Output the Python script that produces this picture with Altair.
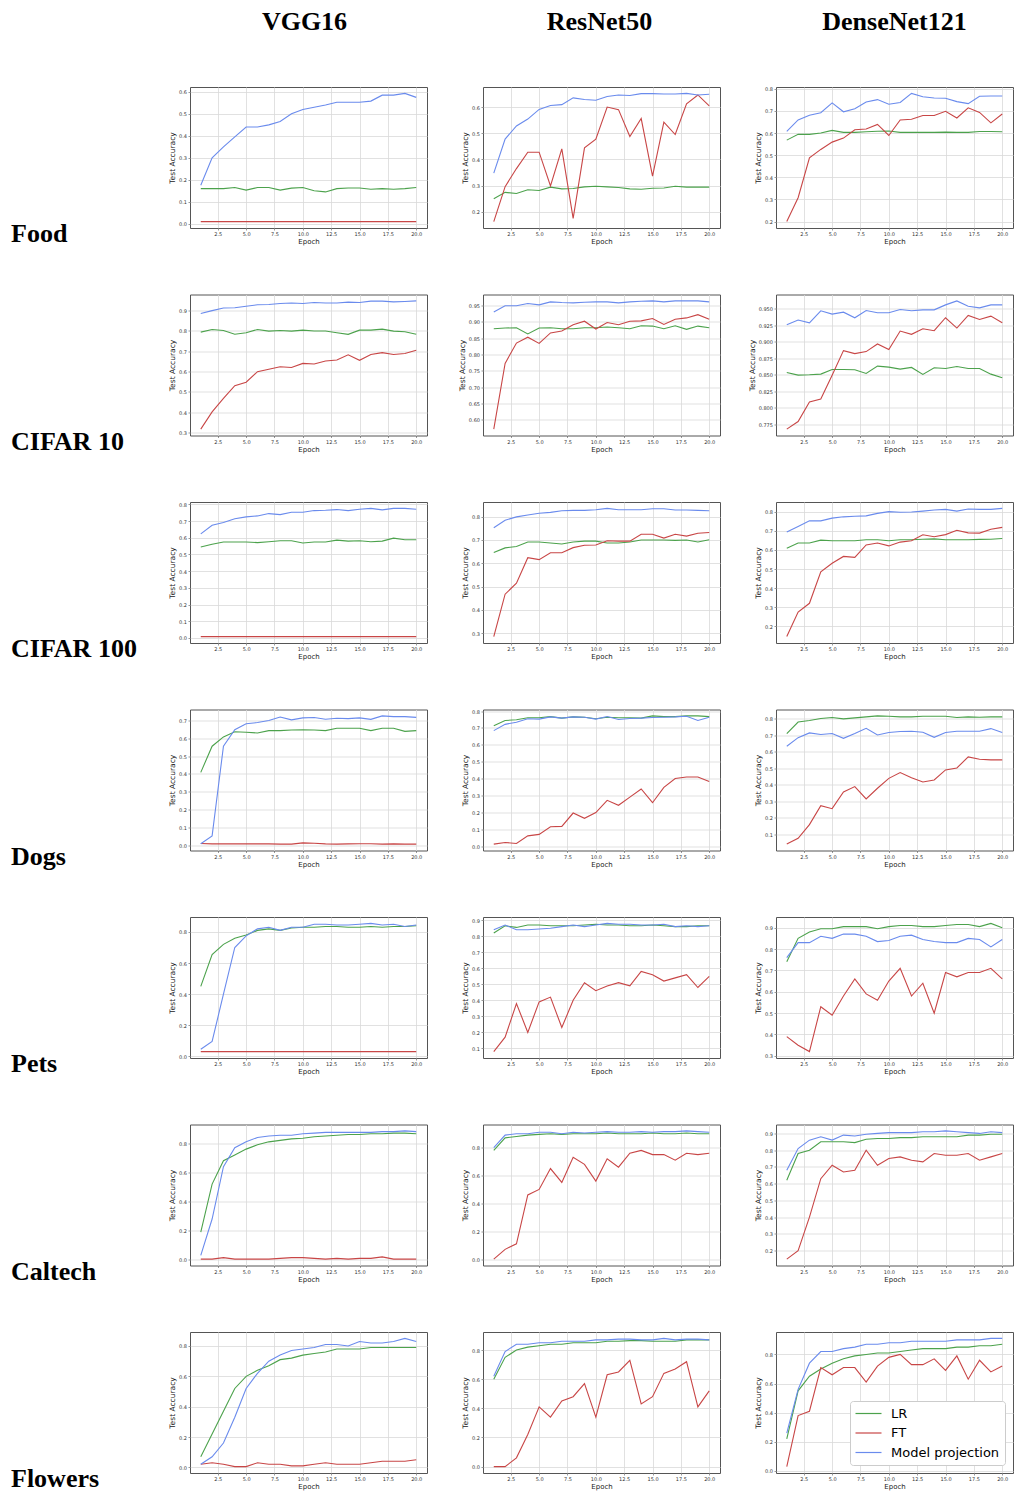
import math
import altair as alt
import pandas as pd

epochs = list(range(1, 21))
models = ["VGG16", "ResNet50", "DenseNet121"]
datasets = ["Food", "CIFAR 10", "CIFAR 100", "Dogs", "Pets", "Caltech", "Flowers"]
series_names = ["LR", "FT", "Model projection"]
series_colors = ["#4ca24c", "#c84646", "#6a8bed"]
x_ticks = [2.5, 5.0, 7.5, 10.0, 12.5, 15.0, 17.5, 20.0]

# ---------------- Food ----------------
food_vgg_lr = [0.16, 0.16, 0.16, 0.165, 0.153, 0.165, 0.165, 0.153, 0.162, 0.165, 0.15, 0.145, 0.16, 0.163, 0.163, 0.157, 0.16, 0.157, 0.16, 0.165]
food_vgg_ft = [0.01, 0.01, 0.01, 0.01, 0.01, 0.01, 0.01, 0.01, 0.01, 0.01, 0.01, 0.01, 0.01, 0.01, 0.01, 0.01, 0.01, 0.01, 0.01, 0.01]
food_vgg_mp = [0.175, 0.30, 0.35, 0.395, 0.44, 0.44, 0.45, 0.465, 0.50, 0.52, 0.53, 0.54, 0.553, 0.553, 0.553, 0.558, 0.585, 0.585, 0.593, 0.575]

food_res_lr = [0.25, 0.274, 0.27, 0.284, 0.281, 0.294, 0.2875, 0.289, 0.295, 0.2975, 0.295, 0.2925, 0.2875, 0.286, 0.29, 0.291, 0.2975, 0.294, 0.294, 0.294]
food_res_ft = [0.1625, 0.296, 0.365, 0.4275, 0.4275, 0.299, 0.44, 0.175, 0.444, 0.4775, 0.60, 0.59, 0.4875, 0.556, 0.336, 0.5425, 0.495, 0.6125, 0.646, 0.604]
food_res_mp = [0.3475, 0.4775, 0.5275, 0.554, 0.591, 0.606, 0.609, 0.635, 0.629, 0.626, 0.64, 0.646, 0.644, 0.651, 0.651, 0.65, 0.65, 0.652, 0.646, 0.649]

food_dense_lr = [0.568, 0.594, 0.594, 0.60, 0.612, 0.603, 0.603, 0.606, 0.608, 0.609, 0.603, 0.603, 0.603, 0.603, 0.604, 0.603, 0.603, 0.607, 0.607, 0.606]
food_dense_ft = [0.20, 0.308, 0.488, 0.526, 0.559, 0.577, 0.615, 0.618, 0.639, 0.589, 0.659, 0.662, 0.679, 0.679, 0.698, 0.668, 0.714, 0.693, 0.646, 0.686]
food_dense_mp = [0.608, 0.659, 0.68, 0.692, 0.736, 0.696, 0.71, 0.74, 0.751, 0.73, 0.738, 0.779, 0.764, 0.758, 0.757, 0.742, 0.733, 0.766, 0.767, 0.767]

# ---------------- CIFAR 10 ----------------
c10_vgg_lr = [0.794, 0.807, 0.802, 0.784, 0.791, 0.807, 0.799, 0.802, 0.799, 0.804, 0.80, 0.80, 0.791, 0.783, 0.804, 0.804, 0.809, 0.799, 0.796, 0.784]
c10_vgg_ft = [0.316, 0.401, 0.467, 0.53, 0.547, 0.599, 0.611, 0.623, 0.62, 0.64, 0.637, 0.652, 0.657, 0.682, 0.655, 0.684, 0.693, 0.684, 0.689, 0.705]
c10_vgg_mp = [0.886, 0.90, 0.913, 0.914, 0.922, 0.929, 0.93, 0.935, 0.938, 0.935, 0.94, 0.938, 0.938, 0.942, 0.94, 0.947, 0.947, 0.943, 0.945, 0.948]

c10_res_lr = [0.879, 0.881, 0.882, 0.863, 0.881, 0.882, 0.879, 0.879, 0.882, 0.882, 0.884, 0.882, 0.879, 0.888, 0.887, 0.879, 0.888, 0.877, 0.887, 0.882]
c10_res_ft = [0.572, 0.773, 0.835, 0.853, 0.834, 0.866, 0.872, 0.891, 0.902, 0.878, 0.898, 0.891, 0.902, 0.903, 0.91, 0.892, 0.908, 0.912, 0.922, 0.908]
c10_res_mp = [0.93, 0.949, 0.949, 0.956, 0.952, 0.961, 0.959, 0.958, 0.96, 0.961, 0.961, 0.958, 0.961, 0.963, 0.964, 0.961, 0.964, 0.964, 0.964, 0.961]

c10_dense_lr = [0.8532, 0.8492, 0.8497, 0.8507, 0.8578, 0.8578, 0.8573, 0.8517, 0.8628, 0.8613, 0.8583, 0.8608, 0.8502, 0.8603, 0.8593, 0.8623, 0.8593, 0.8593, 0.8507, 0.8452]
c10_dense_ft = [0.7675, 0.779, 0.8086, 0.813, 0.849, 0.8863, 0.8818, 0.8848, 0.8963, 0.8878, 0.9159, 0.9109, 0.9194, 0.9164, 0.936, 0.9204, 0.9395, 0.9335, 0.9385, 0.9284]
c10_dense_mp = [0.9254, 0.9325, 0.9284, 0.9465, 0.9415, 0.9445, 0.936, 0.947, 0.9435, 0.9435, 0.9485, 0.9465, 0.948, 0.948, 0.9555, 0.9615, 0.9535, 0.951, 0.9555, 0.9555]

# ---------------- CIFAR 100 ----------------
c100_vgg_lr = [0.545, 0.561, 0.575, 0.575, 0.575, 0.571, 0.576, 0.582, 0.582, 0.569, 0.575, 0.575, 0.586, 0.58, 0.582, 0.576, 0.58, 0.598, 0.588, 0.588]
c100_vgg_ft = [0.008, 0.008, 0.008, 0.008, 0.008, 0.008, 0.008, 0.008, 0.008, 0.008, 0.008, 0.008, 0.008, 0.008, 0.008, 0.008, 0.008, 0.008, 0.008, 0.008]
c100_vgg_mp = [0.6235, 0.675, 0.692, 0.714, 0.725, 0.731, 0.745, 0.739, 0.753, 0.753, 0.763, 0.765, 0.769, 0.763, 0.771, 0.776, 0.767, 0.776, 0.776, 0.771]

c100_res_lr = [0.6464, 0.666, 0.6715, 0.691, 0.691, 0.6869, 0.6827, 0.691, 0.695, 0.695, 0.687, 0.687, 0.691, 0.6994, 0.6994, 0.6994, 0.698, 0.6994, 0.691, 0.7008]
c100_res_ft = [0.286, 0.4676, 0.515, 0.624, 0.6156, 0.645, 0.645, 0.667, 0.677, 0.6785, 0.6966, 0.695, 0.695, 0.7245, 0.7245, 0.708, 0.7245, 0.7162, 0.7287, 0.7315]
c100_res_mp = [0.7525, 0.7846, 0.7986, 0.807, 0.814, 0.818, 0.825, 0.8265, 0.8265, 0.829, 0.835, 0.829, 0.829, 0.829, 0.8335, 0.8335, 0.828, 0.828, 0.8265, 0.825]

c100_dense_lr = [0.609, 0.636, 0.636, 0.651, 0.648, 0.648, 0.648, 0.653, 0.653, 0.648, 0.653, 0.653, 0.656, 0.658, 0.653, 0.653, 0.653, 0.655, 0.656, 0.66]
c100_dense_ft = [0.147, 0.275, 0.321, 0.485, 0.53, 0.566, 0.561, 0.626, 0.636, 0.621, 0.641, 0.648, 0.679, 0.669, 0.68, 0.703, 0.689, 0.688, 0.708, 0.718]
c100_dense_mp = [0.694, 0.723, 0.752, 0.752, 0.766, 0.773, 0.776, 0.778, 0.791, 0.80, 0.797, 0.798, 0.803, 0.809, 0.812, 0.803, 0.814, 0.812, 0.812, 0.817]

# ---------------- Dogs ----------------
dogs_vgg_lr = [0.409, 0.555, 0.607, 0.636, 0.633, 0.629, 0.642, 0.642, 0.645, 0.647, 0.645, 0.642, 0.655, 0.655, 0.655, 0.642, 0.655, 0.655, 0.638, 0.642]
dogs_vgg_ft = [0.012, 0.01, 0.01, 0.01, 0.011, 0.01, 0.01, 0.009, 0.009, 0.016, 0.014, 0.01, 0.009, 0.01, 0.011, 0.011, 0.009, 0.01, 0.009, 0.009]
dogs_vgg_mp = [0.011, 0.055, 0.555, 0.647, 0.68, 0.687, 0.698, 0.718, 0.702, 0.713, 0.715, 0.705, 0.711, 0.709, 0.713, 0.705, 0.724, 0.72, 0.72, 0.716]

dogs_res_lr = [0.713, 0.744, 0.748, 0.76, 0.76, 0.767, 0.758, 0.765, 0.763, 0.754, 0.763, 0.76, 0.76, 0.758, 0.771, 0.767, 0.767, 0.771, 0.771, 0.767]
dogs_res_ft = [0.0135, 0.023, 0.017, 0.062, 0.071, 0.116, 0.118, 0.197, 0.166, 0.20, 0.272, 0.243, 0.291, 0.339, 0.258, 0.349, 0.401, 0.41, 0.41, 0.383]
dogs_res_mp = [0.684, 0.721, 0.734, 0.754, 0.752, 0.765, 0.758, 0.765, 0.763, 0.752, 0.767, 0.75, 0.756, 0.758, 0.762, 0.763, 0.765, 0.769, 0.744, 0.763]

dogs_dense_lr = [0.711, 0.781, 0.79, 0.802, 0.808, 0.80, 0.806, 0.812, 0.818, 0.816, 0.812, 0.812, 0.816, 0.816, 0.816, 0.808, 0.812, 0.81, 0.812, 0.812]
dogs_dense_ft = [0.04, 0.075, 0.158, 0.273, 0.255, 0.356, 0.389, 0.314, 0.379, 0.439, 0.474, 0.443, 0.417, 0.429, 0.49, 0.502, 0.569, 0.555, 0.551, 0.551]
dogs_dense_mp = [0.634, 0.686, 0.715, 0.705, 0.711, 0.682, 0.711, 0.743, 0.702, 0.717, 0.723, 0.725, 0.719, 0.688, 0.717, 0.725, 0.725, 0.725, 0.741, 0.717]

# ---------------- Pets ----------------
pets_vgg_lr = [0.45, 0.655, 0.72, 0.76, 0.78, 0.81, 0.82, 0.81, 0.825, 0.83, 0.83, 0.835, 0.835, 0.83, 0.83, 0.835, 0.83, 0.835, 0.835, 0.84]
pets_vgg_ft = [0.03, 0.03, 0.03, 0.03, 0.03, 0.03, 0.03, 0.03, 0.03, 0.03, 0.03, 0.03, 0.03, 0.03, 0.03, 0.03, 0.03, 0.03, 0.03, 0.03]
pets_vgg_mp = [0.045, 0.095, 0.40, 0.70, 0.775, 0.82, 0.83, 0.81, 0.83, 0.83, 0.85, 0.85, 0.845, 0.845, 0.85, 0.855, 0.845, 0.85, 0.835, 0.845]

pets_res_lr = [0.82, 0.865, 0.855, 0.87, 0.87, 0.865, 0.865, 0.865, 0.87, 0.875, 0.87, 0.87, 0.865, 0.865, 0.87, 0.865, 0.86, 0.86, 0.865, 0.865]
pets_res_ft = [0.08, 0.17, 0.38, 0.20, 0.39, 0.42, 0.23, 0.40, 0.51, 0.46, 0.49, 0.51, 0.49, 0.58, 0.56, 0.52, 0.54, 0.56, 0.48, 0.55]
pets_res_mp = [0.84, 0.87, 0.84, 0.84, 0.845, 0.85, 0.86, 0.87, 0.86, 0.87, 0.88, 0.875, 0.875, 0.87, 0.87, 0.875, 0.86, 0.865, 0.86, 0.865]

pets_dense_lr = [0.74, 0.85, 0.88, 0.895, 0.895, 0.905, 0.905, 0.905, 0.895, 0.905, 0.91, 0.91, 0.905, 0.905, 0.91, 0.915, 0.915, 0.905, 0.92, 0.90]
pets_dense_ft = [0.39, 0.35, 0.32, 0.53, 0.49, 0.58, 0.66, 0.59, 0.56, 0.65, 0.71, 0.58, 0.64, 0.50, 0.69, 0.67, 0.69, 0.69, 0.71, 0.66]
pets_dense_mp = [0.76, 0.83, 0.83, 0.86, 0.85, 0.87, 0.87, 0.86, 0.835, 0.84, 0.86, 0.865, 0.845, 0.835, 0.83, 0.83, 0.85, 0.845, 0.81, 0.845]

# ---------------- Caltech ----------------
cal_vgg_lr = [0.19, 0.52, 0.68, 0.72, 0.76, 0.79, 0.81, 0.82, 0.83, 0.835, 0.845, 0.85, 0.855, 0.86, 0.86, 0.865, 0.865, 0.87, 0.87, 0.865]
cal_vgg_ft = [0.005, 0.005, 0.015, 0.005, 0.005, 0.005, 0.005, 0.01, 0.015, 0.015, 0.01, 0.005, 0.01, 0.005, 0.01, 0.01, 0.02, 0.005, 0.005, 0.005]
cal_vgg_mp = [0.03, 0.28, 0.64, 0.77, 0.81, 0.84, 0.85, 0.855, 0.855, 0.865, 0.87, 0.875, 0.875, 0.875, 0.875, 0.875, 0.88, 0.88, 0.885, 0.88]

cal_res_lr = [0.78, 0.87, 0.88, 0.89, 0.895, 0.90, 0.895, 0.90, 0.90, 0.90, 0.905, 0.90, 0.90, 0.90, 0.905, 0.90, 0.90, 0.905, 0.90, 0.90]
cal_res_ft = [0.0, 0.07, 0.11, 0.46, 0.50, 0.65, 0.55, 0.73, 0.68, 0.56, 0.72, 0.66, 0.76, 0.78, 0.75, 0.75, 0.71, 0.76, 0.75, 0.76]
cal_res_mp = [0.80, 0.89, 0.90, 0.90, 0.91, 0.91, 0.90, 0.91, 0.905, 0.91, 0.915, 0.91, 0.91, 0.915, 0.91, 0.915, 0.915, 0.92, 0.915, 0.91]

cal_dense_lr = [0.62, 0.78, 0.80, 0.85, 0.85, 0.85, 0.845, 0.865, 0.87, 0.87, 0.875, 0.875, 0.88, 0.88, 0.88, 0.88, 0.89, 0.89, 0.895, 0.895]
cal_dense_ft = [0.15, 0.20, 0.40, 0.63, 0.71, 0.67, 0.68, 0.80, 0.71, 0.75, 0.76, 0.74, 0.73, 0.78, 0.77, 0.77, 0.78, 0.74, 0.76, 0.78]
cal_dense_mp = [0.68, 0.81, 0.86, 0.88, 0.86, 0.89, 0.885, 0.895, 0.90, 0.905, 0.905, 0.905, 0.91, 0.91, 0.915, 0.91, 0.905, 0.90, 0.91, 0.905]

# ---------------- Flowers ----------------
flw_vgg_lr = [0.07, 0.22, 0.37, 0.52, 0.60, 0.64, 0.67, 0.71, 0.72, 0.74, 0.75, 0.76, 0.78, 0.78, 0.78, 0.79, 0.79, 0.79, 0.79, 0.79]
flw_vgg_ft = [0.02, 0.03, 0.02, 0.005, 0.005, 0.03, 0.02, 0.02, 0.01, 0.01, 0.02, 0.03, 0.02, 0.02, 0.02, 0.03, 0.04, 0.04, 0.04, 0.05]
flw_vgg_mp = [0.02, 0.07, 0.16, 0.33, 0.52, 0.62, 0.70, 0.74, 0.77, 0.78, 0.79, 0.81, 0.81, 0.80, 0.83, 0.82, 0.82, 0.83, 0.85, 0.83]

flw_res_lr = [0.60, 0.75, 0.80, 0.82, 0.83, 0.84, 0.84, 0.85, 0.85, 0.85, 0.86, 0.86, 0.865, 0.865, 0.86, 0.86, 0.86, 0.87, 0.87, 0.87]
flw_res_ft = [0.0, 0.0, 0.06, 0.22, 0.41, 0.34, 0.45, 0.48, 0.57, 0.34, 0.63, 0.65, 0.73, 0.43, 0.48, 0.64, 0.67, 0.72, 0.41, 0.52]
flw_res_mp = [0.62, 0.79, 0.84, 0.84, 0.85, 0.85, 0.86, 0.86, 0.86, 0.87, 0.87, 0.875, 0.875, 0.87, 0.87, 0.88, 0.87, 0.875, 0.875, 0.87]

flw_dense_lr = [0.22, 0.55, 0.65, 0.70, 0.74, 0.77, 0.79, 0.80, 0.81, 0.81, 0.82, 0.83, 0.84, 0.84, 0.84, 0.85, 0.85, 0.86, 0.86, 0.87]
flw_dense_ft = [0.03, 0.38, 0.41, 0.71, 0.66, 0.71, 0.71, 0.61, 0.72, 0.78, 0.80, 0.73, 0.73, 0.77, 0.69, 0.79, 0.63, 0.76, 0.68, 0.72]
flw_dense_mp = [0.26, 0.56, 0.74, 0.82, 0.82, 0.84, 0.85, 0.87, 0.87, 0.88, 0.88, 0.89, 0.89, 0.89, 0.89, 0.90, 0.90, 0.90, 0.91, 0.91]

panel_series = [
    [(food_vgg_lr, food_vgg_ft, food_vgg_mp), (food_res_lr, food_res_ft, food_res_mp), (food_dense_lr, food_dense_ft, food_dense_mp)],
    [(c10_vgg_lr, c10_vgg_ft, c10_vgg_mp), (c10_res_lr, c10_res_ft, c10_res_mp), (c10_dense_lr, c10_dense_ft, c10_dense_mp)],
    [(c100_vgg_lr, c100_vgg_ft, c100_vgg_mp), (c100_res_lr, c100_res_ft, c100_res_mp), (c100_dense_lr, c100_dense_ft, c100_dense_mp)],
    [(dogs_vgg_lr, dogs_vgg_ft, dogs_vgg_mp), (dogs_res_lr, dogs_res_ft, dogs_res_mp), (dogs_dense_lr, dogs_dense_ft, dogs_dense_mp)],
    [(pets_vgg_lr, pets_vgg_ft, pets_vgg_mp), (pets_res_lr, pets_res_ft, pets_res_mp), (pets_dense_lr, pets_dense_ft, pets_dense_mp)],
    [(cal_vgg_lr, cal_vgg_ft, cal_vgg_mp), (cal_res_lr, cal_res_ft, cal_res_mp), (cal_dense_lr, cal_dense_ft, cal_dense_mp)],
    [(flw_vgg_lr, flw_vgg_ft, flw_vgg_mp), (flw_res_lr, flw_res_ft, flw_res_mp), (flw_dense_lr, flw_dense_ft, flw_dense_mp)],
]

# y tick step of each panel (matplotlib auto ticks)
y_steps = [
    [0.1, 0.1, 0.1],
    [0.1, 0.05, 0.025],
    [0.1, 0.1, 0.1],
    [0.1, 0.1, 0.1],
    [0.2, 0.1, 0.1],
    [0.2, 0.2, 0.1],
    [0.2, 0.2, 0.2],
]

W, H = 237, 141
SERIF = "Liberation Serif"
SANS = "DejaVu Sans"
header_dx = [-4, -2, 0]


def make_panel(r, c):
    lr, ft, mp = panel_series[r][c]
    df = pd.DataFrame({
        "Epoch": epochs * 3,
        "Accuracy": lr + ft + mp,
        "Method": [series_names[0]] * 20 + [series_names[1]] * 20 + [series_names[2]] * 20,
    })
    vals = lr + ft + mp
    lo, hi = min(vals), max(vals)
    m = 0.05 * (hi - lo)
    dom = [lo - m, hi + m]
    step = y_steps[r][c]
    k0 = math.ceil(dom[0] / step - 1e-9)
    k1 = math.floor(dom[1] / step + 1e-9)
    ticks = [round(k * step, 4) for k in range(k0, k1 + 1)]
    dec = 3 if step < 0.05 else (2 if step < 0.1 else 1)

    if r == 6 and c == 2:
        legend = alt.Legend(
            orient="bottom-right", offset=8, title=None,
            symbolType="M-2,0L2,0", symbolSize=169, symbolStrokeWidth=1.2,
            symbolOffset=6, labelOffset=15,
            labelFont=SANS, labelFontSize=13, labelColor="#000",
            rowPadding=4.5, padding=5,
            strokeColor="#cccccc", fillColor="white", cornerRadius=3,
        )
    else:
        legend = None

    base = alt.Chart(df).mark_line(strokeWidth=1.1, clip=True).encode(
        x=alt.X("Epoch:Q",
                scale=alt.Scale(domain=[0.05, 20.95], nice=False, zero=False),
                axis=alt.Axis(values=x_ticks, format=".1f", title="Epoch")),
        y=alt.Y("Accuracy:Q",
                scale=alt.Scale(domain=dom, nice=False, zero=False),
                axis=alt.Axis(values=ticks, format=f".{dec}f", title="Test Accuracy")),
        color=alt.Color("Method:N",
                        scale=alt.Scale(domain=series_names, range=series_colors),
                        legend=legend),
    ).properties(width=W, height=H)

    layers = [base]
    if c == 0:
        lab = alt.Chart(pd.DataFrame({"t": [datasets[r]]})).mark_text(
            font=SERIF, fontWeight="bold", fontSize=26, align="left",
            baseline="alphabetic", color="black"
        ).encode(text="t:N", x=alt.value(-179), y=alt.value(H + 14))
        layers.append(lab)
    if r == 0:
        head = alt.Chart(pd.DataFrame({"t": [models[c]]})).mark_text(
            font=SERIF, fontWeight="bold", fontSize=26, align="center",
            baseline="alphabetic", color="black"
        ).encode(text="t:N", x=alt.value(W / 2 + header_dx[c]), y=alt.value(-57))
        layers.append(head)
    if len(layers) == 1:
        return base
    return alt.layer(*layers)


panels = [make_panel(r, c) for r in range(len(datasets)) for c in range(3)]

chart = alt.concat(
    *panels, columns=3, spacing={"row": 66.5, "column": 56}, bounds="flush"
).resolve_scale(
    color="independent"
).properties(
    padding={"left": 2, "top": 0, "right": 0, "bottom": 0}
).configure_view(
    stroke="#555555", strokeWidth=1
).configure_axis(
    domain=False, grid=True, gridColor="#d9d9d9", gridWidth=0.8,
    tickColor="#555555", tickSize=2, tickWidth=0.6,
    labelFont=SANS, labelFontSize=5, labelColor="#333333", labelPadding=1.5,
    titleFont=SANS, titleFontSize=7, titleFontWeight="normal", titleColor="#222222",
).configure_axisY(
    titlePadding=2, titleFontSize=7.5
).configure_axisX(
    titlePadding=1
)

chart.save("out.html", embed_options={"renderer": "svg", "actions": False})
